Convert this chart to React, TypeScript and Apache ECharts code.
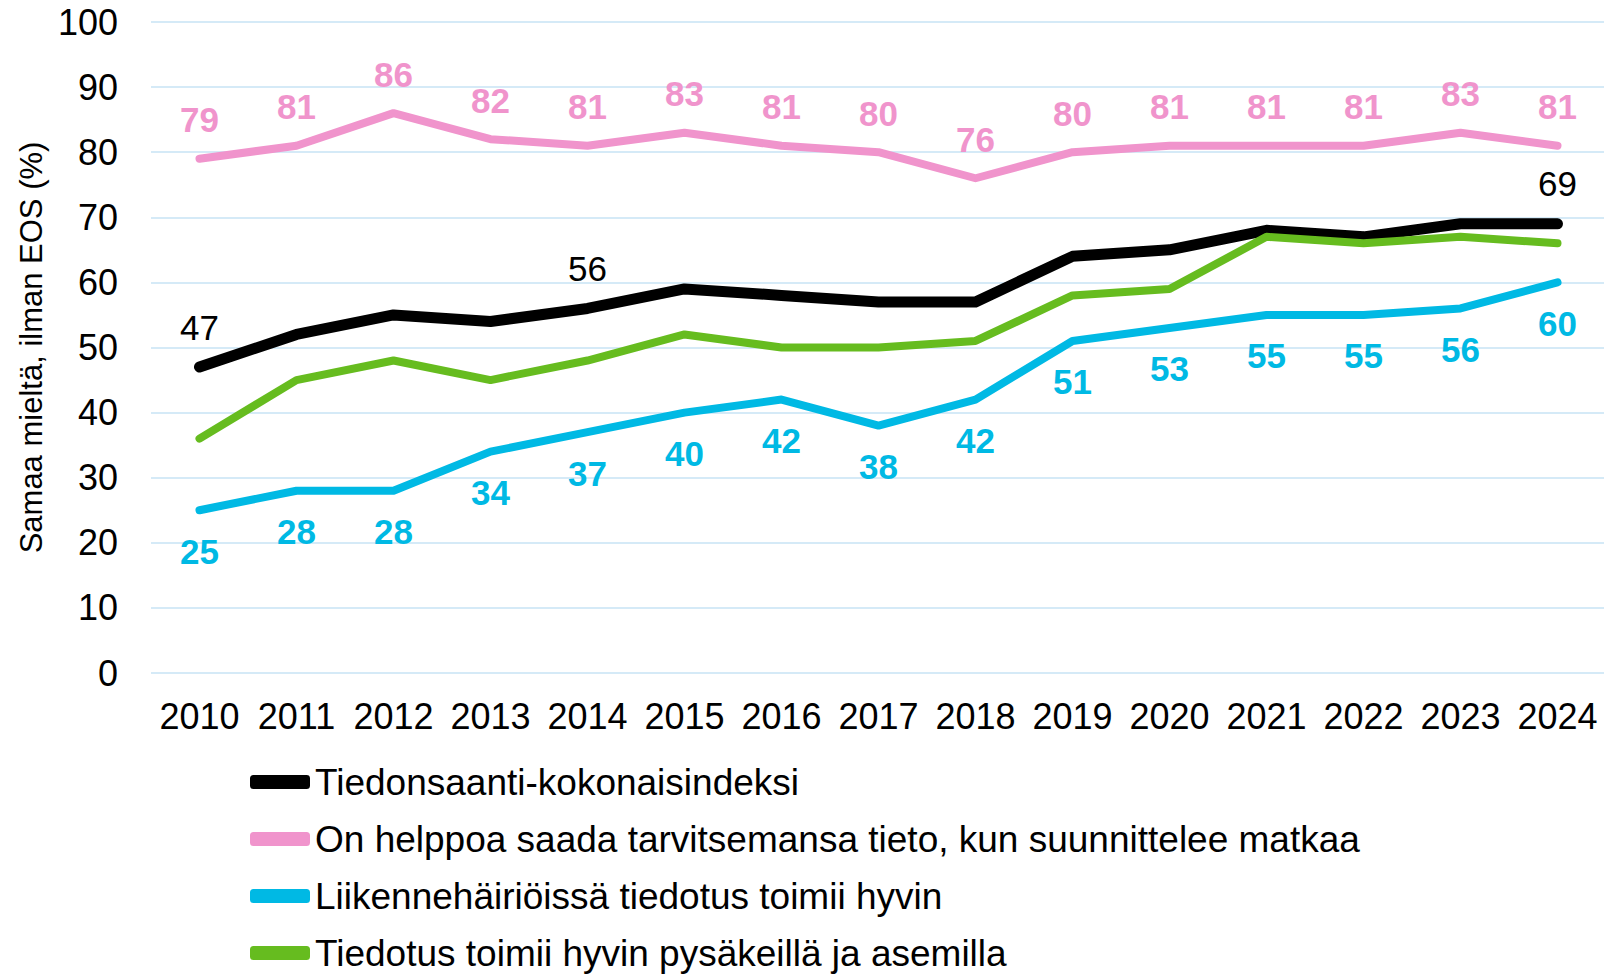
import React, { useEffect, useRef } from "react";
import * as echarts from "echarts";

const years = ["2010","2011","2012","2013","2014","2015","2016","2017","2018","2019","2020","2021","2022","2023","2024"];
const indexValues = [47, 52, 55, 54, 56, 59, 58, 57, 57, 64, 65, 68, 67, 69, 69];
const indexLabeled = [0, 4, 14];
const planningValues = [79, 81, 86, 82, 81, 83, 81, 80, 76, 80, 81, 81, 81, 83, 81];
const disruptionValues = [25, 28, 28, 34, 37, 40, 42, 38, 42, 51, 53, 55, 55, 56, 60];
const stopsValues = [36, 45, 48, 45, 48, 52, 50, 50, 51, 58, 59, 67, 66, 67, 66];
const seriesNames = [
  "Tiedonsaanti-kokonaisindeksi",
  "On helppoa saada tarvitsemansa tieto, kun suunnittelee matkaa",
  "Liikennehäiriöissä tiedotus toimii hyvin",
  "Tiedotus toimii hyvin pysäkeillä ja asemilla",
];

const FONT = "'Liberation Sans', Arial, sans-serif";

export default function App() {
  const ref = useRef<HTMLDivElement>(null);
  useEffect(() => {
    if (!ref.current) return;
    const chart = echarts.init(ref.current, null, { renderer: "svg" });
    chart.setOption({
      animation: false,
      textStyle: { fontFamily: FONT },
      grid: { left: 151, top: 22, width: 1455, height: 651, containLabel: false, outerBoundsMode: "none" },
      legend: {
        orient: "vertical",
        left: 250,
        top: 762,
        height: 260,
        padding: 0,
        itemWidth: 60,
        itemHeight: 14,
        itemGap: 17,
        icon: "roundRect",
        selectedMode: false,
        textStyle: { fontSize: 37, color: "#000", fontFamily: FONT, lineHeight: 40 },
        data: seriesNames,
      },
      xAxis: {
        type: "category",
        data: years,
        boundaryGap: true,
        axisLine: { show: false },
        axisTick: { show: false },
        axisLabel: { fontSize: 36, color: "#000", margin: 25, interval: 0, fontFamily: FONT },
      },
      yAxis: {
        type: "value",
        min: 0,
        max: 100,
        interval: 10,
        name: "Samaa mieltä, ilman EOS (%)",
        nameLocation: "middle",
        nameGap: 104,
        nameTextStyle: { fontSize: 31, color: "#000", fontFamily: FONT },
        axisLine: { show: false },
        axisTick: { show: false },
        axisLabel: { fontSize: 36, color: "#000", margin: 33, fontFamily: FONT },
        splitLine: { lineStyle: { color: "#D5EAF7", width: 2 } },
      },
      series: [
        {
          name: seriesNames[0],
          type: "line",
          data: indexValues.map((v, i) => ({
            value: v,
            label: { show: indexLabeled.includes(i) },
          })),
          color: "#000000",
          symbol: "circle",
          symbolSize: 1,
          showSymbol: true,
          lineStyle: { width: 11, cap: "round", join: "round" },
          label: { show: false, position: "top", distance: 22, fontSize: 35, color: "#000", fontFamily: FONT },
        },
        {
          name: seriesNames[1],
          type: "line",
          data: planningValues,
          color: "#F094CC",
          symbol: "circle",
          symbolSize: 1,
          showSymbol: true,
          lineStyle: { width: 8, cap: "round", join: "round" },
          label: { show: true, position: "top", distance: 21, fontSize: 35, fontWeight: "bold", color: "#F094CC", fontFamily: FONT },
        },
        {
          name: seriesNames[2],
          type: "line",
          data: disruptionValues,
          color: "#00B9E4",
          symbol: "circle",
          symbolSize: 1,
          showSymbol: true,
          lineStyle: { width: 8, cap: "round", join: "round" },
          label: { show: true, position: "bottom", distance: 23, fontSize: 35, fontWeight: "bold", color: "#00B9E4", fontFamily: FONT },
        },
        {
          name: seriesNames[3],
          type: "line",
          data: stopsValues,
          color: "#66BC1F",
          symbol: "circle",
          symbolSize: 1,
          showSymbol: true,
          lineStyle: { width: 8, cap: "round", join: "round" },
          label: { show: false },
        },
      ],
    });
    return () => chart.dispose();
  }, []);
  return <div ref={ref} style={{ width: 1604, height: 975, position: "absolute", left: 0, top: 0 }} />;
}
